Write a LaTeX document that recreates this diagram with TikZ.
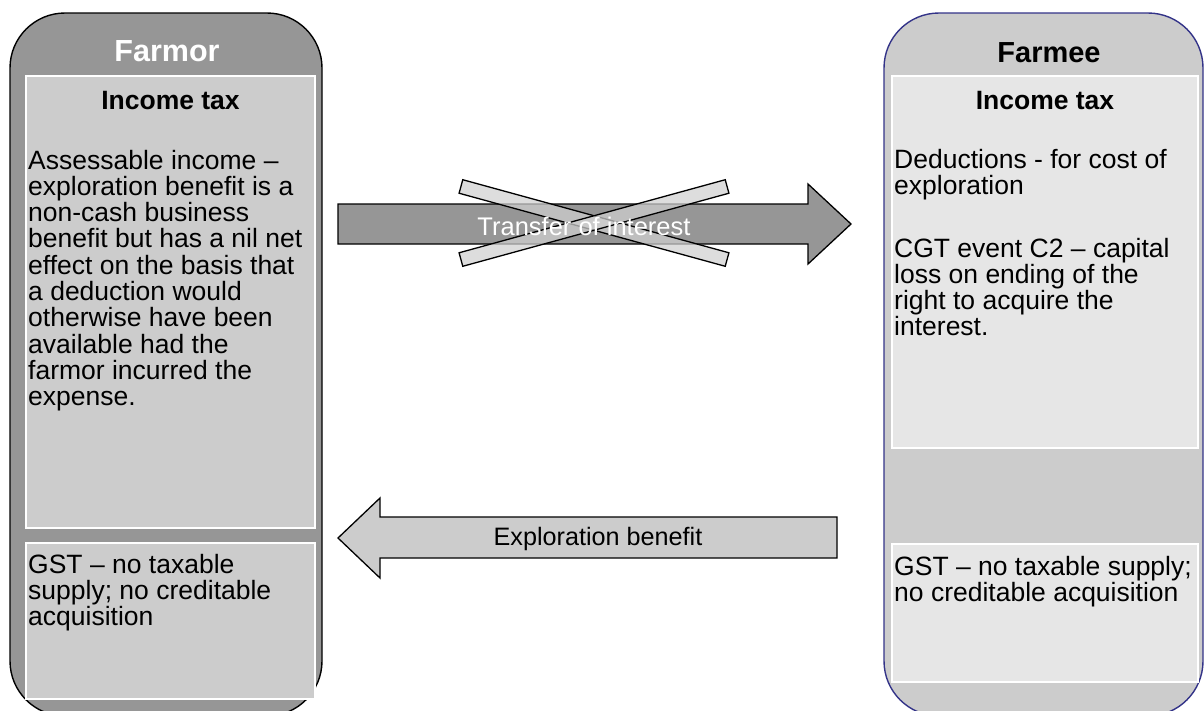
\documentclass[tikz,border=0pt]{standalone}
\usepackage{fontspec}
\setmainfont{Liberation Sans}
\definecolor{dgray}{RGB}{150,150,150}
\definecolor{lgray}{RGB}{204,204,204}
\definecolor{vlgray}{RGB}{230,230,230}
\definecolor{barfill}{RGB}{208,208,208}
\definecolor{navyline}{RGB}{51,51,136}
\begin{document}
\begin{tikzpicture}[x=1pt,y=-1pt,
  outerbox/.style={rectangle, rounded corners=55pt, line width=1.4pt, inner sep=0pt},
  innerbox/.style={rectangle, draw=white, line width=1.4pt, inner sep=0pt},
  body/.style={inner sep=0pt, anchor=base west, font=\fontsize{26.5}{26.3}\selectfont},
  heading/.style={inner sep=0pt, anchor=base, font=\bfseries\fontsize{26.5}{30}\selectfont},
  blockarrow/.style={draw=black, line width=1.3pt, line join=miter},
  xbar/.style={rectangle, draw=black, line width=1.3pt, fill=barfill, fill opacity=0.72,
    minimum width=276pt, minimum height=14pt, inner sep=0pt},
  arrowtext/.style={inner sep=0pt, anchor=base, font=\fontsize{25.2}{30}\selectfont}]
\useasboundingbox (0,0) rectangle (1204,710);
\begin{scope}
\clip (0,0) rectangle (1204,710);
% outer shapes
\node[outerbox, draw=black, fill=dgray, minimum width=312pt, minimum height=703pt] (farmor) at (166,364.5) {};
\node[outerbox, draw=navyline, fill=lgray, minimum width=319pt, minimum height=703pt] (farmee) at (1043.5,364.5) {};
% inner boxes
\node[innerbox, fill=lgray, minimum width=289pt, minimum height=452pt] (farmorIT) at (170.5,302) {};
\node[innerbox, fill=lgray, minimum width=289pt, minimum height=156pt] (farmorGST) at (170.5,621) {};
\node[innerbox, fill=vlgray, minimum width=306pt, minimum height=372pt] (farmeeIT) at (1045,262) {};
\node[innerbox, fill=vlgray, minimum width=306pt, minimum height=138pt] (farmeeGST) at (1045,613) {};
\end{scope}
% titles
\node[inner sep=0pt, anchor=base, text=white, font=\bfseries\fontsize{30.5}{34}\selectfont] (farmortitle) at (167,61) {Farmor};
\node[inner sep=0pt, anchor=base, text=black, font=\bfseries\fontsize{29}{34}\selectfont] (farmeetitle) at (1049,62) {Farmee};
\node[heading] (farmorith) at (170.5,109) {Income tax};
\node[heading] (farmeeith) at (1045,109) {Income tax};
% body texts
\node[body] (farmortext) at (28,169) {\parbox[t]{300pt}{\raggedright Assessable income –\\exploration benefit is a\\non-cash business\\benefit but has a nil net\\effect on the basis that\\a deduction would\\otherwise have been\\available had the\\farmor incurred the\\expense.}};
\node[body] (farmeetext1) at (894,168) {\parbox[t]{310pt}{\raggedright Deductions - for cost of\\exploration}};
\node[body] (farmeetext2) at (894,257) {\parbox[t]{310pt}{\raggedright CGT event C2 – capital\\loss on ending of the\\right to acquire the\\interest.}};
\node[body] (farmorgst) at (28,573) {\parbox[t]{300pt}{\raggedright GST – no taxable\\supply; no creditable\\acquisition}};
\node[body] (farmeegst) at (894,575) {\parbox[t]{310pt}{\raggedright GST – no taxable supply;\\no creditable acquisition}};
% transfer arrow (crossed out)
\draw[blockarrow, fill=dgray] (338,204) -- (808,204) -- (808,184) -- (851,224) -- (808,264) -- (808,244) -- (338,244) -- cycle;
\node[xbar, rotate=-15.35] (bar1) at (594,223) {};
\node[xbar, rotate=15.35] (bar2) at (594,223) {};
\node[arrowtext, text=white, font=\fontsize{25.5}{30}\selectfont] (transfertxt) at (584,235) {Transfer of interest};
% exploration benefit arrow
\draw[blockarrow, fill=lgray] (837,517) -- (380,517) -- (380,498) -- (338,538) -- (380,578) -- (380,558) -- (837,558) -- cycle;
\node[arrowtext, text=black] (exptxt) at (598,545) {Exploration benefit};
\end{tikzpicture}
\end{document}
